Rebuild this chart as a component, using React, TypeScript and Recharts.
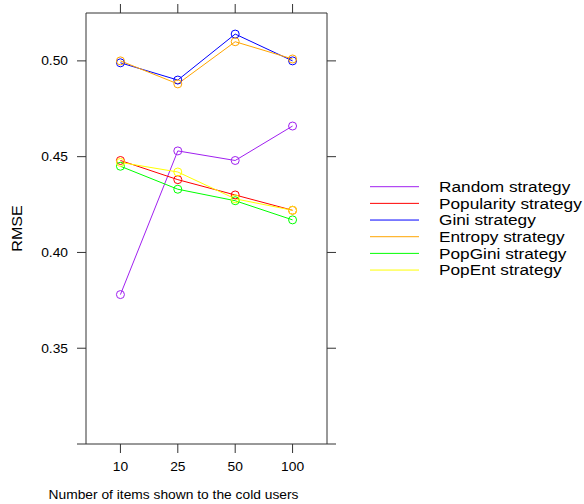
import React from "react";
import { LineChart, Line, XAxis, YAxis, Legend } from "recharts";

// x positions of the four groups and the labels shown under them
const positions = [1, 2, 3, 4];
const itemCounts = ["10", "25", "50", "100"];

// RMSE per strategy, one value per group
const randomStrategy = [0.378, 0.453, 0.448, 0.466];
const popularityStrategy = [0.448, 0.438, 0.43, 0.422];
const giniStrategy = [0.499, 0.49, 0.514, 0.5];
const entropyStrategy = [0.5, 0.488, 0.51, 0.501];
const popGiniStrategy = [0.445, 0.433, 0.427, 0.417];
const popEntStrategy = [0.447, 0.442, 0.428, 0.422];

const yTicks = [0.3, 0.35, 0.4, 0.45, 0.5];
const yTickLabels = ["", "0.35", "0.40", "0.45", "0.50"];

const series = [
  { key: "random", name: "Random strategy", color: "#A020F0", values: randomStrategy },
  { key: "popularity", name: "Popularity strategy", color: "#FF0000", values: popularityStrategy },
  { key: "gini", name: "Gini strategy", color: "#0000FF", values: giniStrategy },
  { key: "entropy", name: "Entropy strategy", color: "#FFA500", values: entropyStrategy },
  { key: "popGini", name: "PopGini strategy", color: "#00FF00", values: popGiniStrategy },
  { key: "popEnt", name: "PopEnt strategy", color: "#FFFF00", values: popEntStrategy },
];

const data = positions.map((pos, i) => {
  const row: Record<string, number> = { pos };
  series.forEach((s) => {
    row[s.key] = s.values[i];
  });
  return row;
});

const FONT = '"Liberation Sans", Arial, Helvetica, sans-serif';
const STRETCH = 1.15; // the reference font is a bit wider than Arial
const AXIS_COLOR = "#333";

const XTick = (props: any) => {
  const { x, y, payload } = props;
  const label = itemCounts[positions.indexOf(payload.value)] ?? "";
  return (
    <text
      transform={`translate(${x},${y + 16}) scale(${STRETCH},1)`}
      textAnchor="middle"
      fontSize={12}
      fontFamily={FONT}
      fill="#000"
    >
      {label}
    </text>
  );
};

const YTick = (props: any) => {
  const { x, y, payload } = props;
  const idx = yTicks.findIndex((t) => Math.abs(t - payload.value) < 1e-9);
  const label = idx >= 0 ? yTickLabels[idx] : "";
  if (!label) return <g />;
  return (
    <text
      transform={`translate(${x},${y + 4.3}) scale(${STRETCH},1)`}
      textAnchor="end"
      fontSize={12}
      fontFamily={FONT}
      fill="#000"
    >
      {label}
    </text>
  );
};

// top / right axes: tick marks only, no labels
const NoLabel = () => <g />;

const renderXLabel = () => (
  <text
    transform={`translate(173.5,499) scale(${STRETCH},1)`}
    textAnchor="middle"
    fontSize={12}
    fontFamily={FONT}
    fill="#000"
  >
    Number of items shown to the cold users
  </text>
);

const renderYLabel = () => (
  <text
    transform={`translate(22,228.5) rotate(-90) scale(${STRETCH},1)`}
    textAnchor="middle"
    fontSize={14}
    fontFamily={FONT}
    fill="#000"
  >
    RMSE
  </text>
);

const renderLegend = () => (
  <svg width={224} height={110}>
    {series.map((s, i) => {
      const cy = 11.7 + i * 16.67;
      return (
        <g key={s.key}>
          <line x1={10} x2={59} y1={cy} y2={cy} stroke={s.color} strokeWidth={1} />
          <text
            transform={`translate(79,${cy + 5.3}) scale(${STRETCH},1)`}
            fontSize={15}
            fontFamily={FONT}
            fill="#000"
          >
            {s.name}
          </text>
        </g>
      );
    })}
  </svg>
);

export default function App() {
  return (
    <div style={{ position: "absolute", left: 0, top: 0, background: "#fff" }}>
      <LineChart
        width={584}
        height={504}
        data={data}
        margin={{ top: 12, right: 256, bottom: 0, left: 0 }}
      >
        <XAxis
          xAxisId="b"
          dataKey="pos"
          type="number"
          domain={[0.4, 4.6]}
          ticks={positions}
          allowDataOverflow
          height={60}
          tickSize={9}
          tickLine={{ stroke: AXIS_COLOR }}
          axisLine={{ stroke: AXIS_COLOR }}
          tick={<XTick />}
          label={{ content: renderXLabel }}
        />
        <XAxis
          xAxisId="t"
          orientation="top"
          dataKey="pos"
          type="number"
          domain={[0.4, 4.6]}
          ticks={positions}
          allowDataOverflow
          height={1}
          tickSize={9}
          tickLine={{ stroke: AXIS_COLOR }}
          axisLine={{ stroke: AXIS_COLOR }}
          tick={<NoLabel />}
        />
        <YAxis
          yAxisId="l"
          type="number"
          domain={[0.3, 0.525]}
          ticks={yTicks}
          allowDataOverflow
          width={86}
          tickSize={9}
          tickMargin={9}
          tickLine={{ stroke: AXIS_COLOR }}
          axisLine={{ stroke: AXIS_COLOR }}
          tick={<YTick />}
          label={{ content: renderYLabel }}
        />
        <YAxis
          yAxisId="r"
          orientation="right"
          type="number"
          domain={[0.3, 0.525]}
          ticks={yTicks}
          allowDataOverflow
          width={1}
          tickSize={9}
          tickLine={{ stroke: AXIS_COLOR }}
          axisLine={{ stroke: AXIS_COLOR }}
          tick={<NoLabel />}
        />
        {series.map((s) => (
          <Line
            key={s.key}
            xAxisId="b"
            yAxisId="l"
            type="linear"
            dataKey={s.key}
            name={s.name}
            stroke={s.color}
            strokeWidth={1}
            dot={{ r: 4, fill: "none", stroke: s.color, strokeWidth: 1 }}
            activeDot={false}
            isAnimationActive={false}
          />
        ))}
        <Legend
          layout="vertical"
          align="center"
          verticalAlign="middle"
          content={renderLegend}
          wrapperStyle={{ left: 360, top: 175, width: 224, height: 110 }}
        />
      </LineChart>
    </div>
  );
}
